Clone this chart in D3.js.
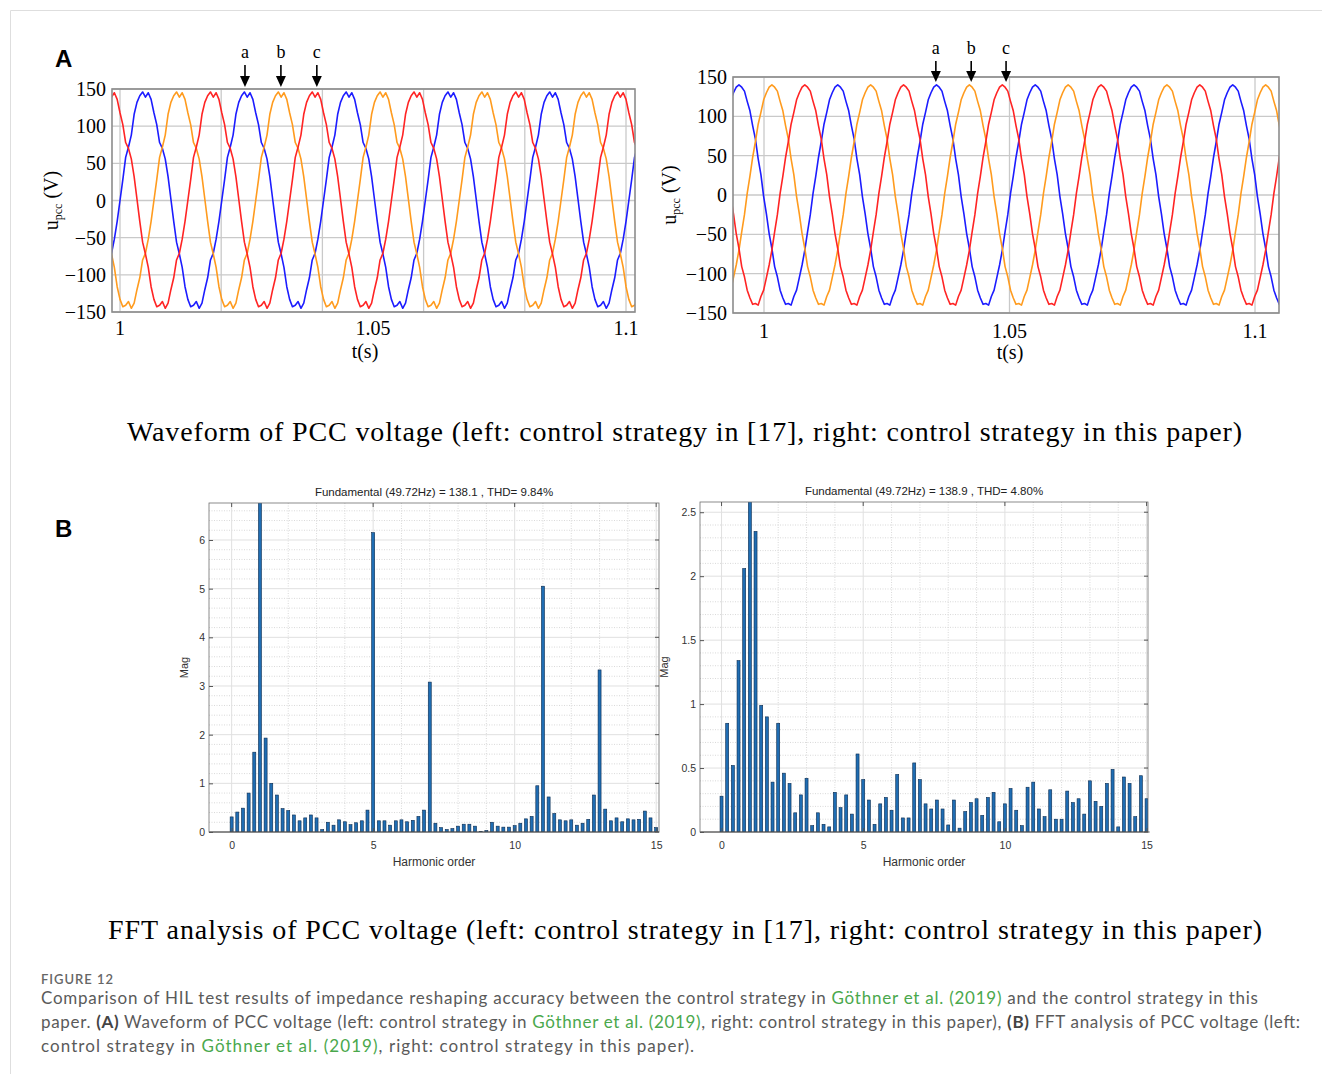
<!DOCTYPE html>
<html>
<head>
<meta charset="utf-8">
<script src="https://cdn.jsdelivr.net/npm/d3@7"></script>
<style>
  body { margin: 0; background: #fff; }
  svg { display: block; }
</style>
</head>
<body>
<div id="fig"></div>
<script>
// ---- data ----
const fundamentalHz = 49.72;
const sampleStepDeg = 10;

// one period of phase a, sampled every 10 deg from its rising zero crossing
const waveLeftPhaseA = [
  0, 28, 58, 72, 88, 116, 132, 141, 146, 139, 145, 136,
  118, 102, 78, 70, 56, 32, 2, -28, -56, -72, -90, -116,
  -133, -143, -141, -136, -145, -138, -120, -104, -80, -71, -52, -28
];
const waveRightPhaseA = [
  2, 24, 48, 68, 90, 105, 121, 130, 137, 140, 137, 132,
  119, 107, 88, 71, 46, 26, -2, -24, -49, -68, -91, -104,
  -121, -131, -139, -138, -140, -129, -121, -105, -89, -70, -47, -25
];
const phaseLagDeg = [0, 120, 240];
const phaseColors = ["#1c1cff", "#ff9b1e", "#ff2424"];
const waveLeftZeroT = 1.0;
const waveRightZeroT = 1.0301;

const markerLabels = ["a", "b", "c"];
const markerLeftT = [1.0247, 1.0318, 1.0389];
const markerRightT = [1.0350, 1.0422, 1.0493];

const waveYTicks = [150, 100, 50, 0, -50, -100, -150];
const waveXTicks = [1, 1.05, 1.1];
const waveLeftGridX = [1, 1.02, 1.04, 1.06, 1.08, 1.1];
const waveRightGridX = [1, 1.05, 1.1];

const harmonicStep = 0.2;
const fftLeftMag = [
  0.31, 0.41, 0.49, 0.80, 1.64, 138.1, 1.93, 1.00, 0.76, 0.48,
  0.44, 0.35, 0.23, 0.29, 0.35, 0.29, 0.05, 0.20, 0.14, 0.25,
  0.21, 0.15, 0.19, 0.23, 0.45, 6.15, 0.23, 0.23, 0.14, 0.23,
  0.25, 0.21, 0.24, 0.32, 0.45, 3.08, 0.18, 0.09, 0.05, 0.07,
  0.12, 0.16, 0.16, 0.12, 0.01, 0.03, 0.20, 0.12, 0.10, 0.10,
  0.13, 0.18, 0.27, 0.32, 0.95, 5.05, 0.72, 0.38, 0.25, 0.23,
  0.25, 0.14, 0.18, 0.26, 0.76, 3.33, 0.47, 0.23, 0.29, 0.21,
  0.27, 0.25, 0.26, 0.43, 0.29, 0.09
];
const fftRightMag = [
  0.28, 0.85, 0.52, 1.34, 2.06, 138.9, 2.35, 0.99, 0.90, 0.39,
  0.85, 0.46, 0.38, 0.15, 0.29, 0.42, 0.05, 0.15, 0.06, 0.04,
  0.31, 0.19, 0.29, 0.14, 0.61, 0.41, 0.25, 0.06, 0.22, 0.27,
  0.17, 0.45, 0.11, 0.11, 0.54, 0.41, 0.22, 0.18, 0.25, 0.18,
  0.055, 0.25, 0.03, 0.16, 0.23, 0.26, 0.13, 0.27, 0.31, 0.08,
  0.22, 0.34, 0.17, 0.05, 0.35, 0.39, 0.18, 0.12, 0.33, 0.10,
  0.10, 0.32, 0.23, 0.26, 0.14, 0.40, 0.24, 0.20, 0.38, 0.49,
  0.04, 0.43, 0.38, 0.12, 0.44, 0.26
];
const fftXTicks = [0, 5, 10, 15];
const fftLeftYTicks = [0, 1, 2, 3, 4, 5, 6];
const fftRightYTicks = [0, 0.5, 1, 1.5, 2, 2.5];
const fftLeftTitle = "Fundamental (49.72Hz) = 138.1 , THD= 9.84%";
const fftRightTitle = "Fundamental (49.72Hz) = 138.9 , THD= 4.80%";

// ---- page ----
const W = 1322, H = 1074;
const SERIF = "'Liberation Serif', 'Times New Roman', serif";
const SANS = "'Liberation Sans', Arial, sans-serif";
const CAP = "Lato, 'Open Sans', sans-serif";

const svg = d3.select("#fig").append("svg")
  .attr("width", W).attr("height", H)
  .attr("viewBox", [0, 0, W, H]);
const defs = svg.append("defs");

svg.append("path")
  .attr("d", `M10.5,${H} V10.5 H${W}`)
  .attr("fill", "none").attr("stroke", "#dedede");

const minus = (d) => (d < 0 ? "\u2212" + Math.abs(d) : String(d));

function drawWave({ id, frame, xRange, yRange, samples, zeroT, gridX, markerT, letterY, shaftTop, tipY, xLabelY, tLabelX, tLabelY, yTitleX }) {
  const x = d3.scaleLinear().domain([1, 1.1]).range(xRange);
  const y = d3.scaleLinear().domain([-150, 150]).range(yRange);
  const g = svg.append("g").attr("class", "wave");

  defs.append("clipPath").attr("id", id)
    .append("rect")
    .attr("x", frame.left).attr("y", frame.top)
    .attr("width", frame.right - frame.left).attr("height", frame.bottom - frame.top);

  g.selectAll(".grid-x").data(gridX).join("line")
    .attr("x1", (d) => x(d)).attr("x2", (d) => x(d))
    .attr("y1", frame.top).attr("y2", frame.bottom)
    .attr("stroke", "#c9c9c9").attr("stroke-width", 1.3);
  g.selectAll(".grid-y").data(waveYTicks).join("line")
    .attr("x1", frame.left).attr("x2", frame.right)
    .attr("y1", (d) => y(d)).attr("y2", (d) => y(d))
    .attr("stroke", "#c9c9c9").attr("stroke-width", 1.3);

  // tile the one-period sample list over the visible window, one trace per phase
  const period = 1 / fundamentalHz;
  const tMin = x.invert(frame.left) - period;
  const tMax = x.invert(frame.right) + period;
  const kMin = Math.floor((tMin - zeroT) / period) - 1;
  const kMax = Math.ceil((tMax - zeroT) / period) + 1;
  const line = d3.line().x((d) => x(d[0])).y((d) => y(d[1]));

  phaseLagDeg.forEach((lag, p) => {
    const pts = [];
    for (let k = kMin; k <= kMax; k++) {
      samples.forEach((v, i) => {
        const t = zeroT + (k + (i * sampleStepDeg + lag) / 360) * period;
        if (t >= tMin && t <= tMax) pts.push([t, v]);
      });
    }
    g.append("path").datum(pts)
      .attr("clip-path", `url(#${id})`)
      .attr("d", line)
      .attr("fill", "none")
      .attr("stroke", phaseColors[p])
      .attr("stroke-width", 1.6)
      .attr("stroke-linejoin", "round");
  });

  g.append("rect")
    .attr("x", frame.left).attr("y", frame.top)
    .attr("width", frame.right - frame.left).attr("height", frame.bottom - frame.top)
    .attr("fill", "none").attr("stroke", "#8c8c8c").attr("stroke-width", 1.6);

  g.selectAll(".ylab").data(waveYTicks).join("text")
    .attr("x", frame.left - 6).attr("y", (d) => y(d)).attr("dy", "0.35em")
    .attr("text-anchor", "end")
    .style("font", `20px ${SERIF}`)
    .text(minus);

  g.selectAll(".xlab").data(waveXTicks).join("text")
    .attr("x", (d) => x(d)).attr("y", xLabelY)
    .attr("text-anchor", "middle")
    .style("font", `20px ${SERIF}`)
    .text((d) => d);

  g.append("text")
    .attr("x", tLabelX).attr("y", tLabelY)
    .attr("text-anchor", "middle")
    .style("font", `20px ${SERIF}`)
    .text("t(s)");

  const yl = g.append("text")
    .attr("transform", `translate(${yTitleX},${(frame.top + frame.bottom) / 2}) rotate(-90)`)
    .attr("text-anchor", "middle")
    .style("font", `20px ${SERIF}`);
  yl.append("tspan").text("u");
  yl.append("tspan").attr("dy", 4).style("font-size", "12px").text("pcc");
  yl.append("tspan").attr("dy", -4).text(" (V)");

  const mk = g.selectAll(".marker").data(markerT).join("g")
    .attr("transform", (d) => `translate(${x(d)},0)`);
  mk.append("text")
    .attr("y", letterY).attr("text-anchor", "middle")
    .style("font", `18px ${SERIF}`)
    .text((d, i) => markerLabels[i]);
  mk.append("line")
    .attr("y1", shaftTop).attr("y2", tipY - 8)
    .attr("stroke", "#000").attr("stroke-width", 1.6);
  mk.append("path")
    .attr("d", `M-5,${tipY - 11} L5,${tipY - 11} L0,${tipY} Z`)
    .attr("fill", "#000");
}

drawWave({
  id: "clip-wave-left",
  frame: { left: 112, right: 635, top: 89, bottom: 312 },
  xRange: [120, 626], yRange: [312, 89],
  samples: waveLeftPhaseA, zeroT: waveLeftZeroT, gridX: waveLeftGridX,
  markerT: markerLeftT, letterY: 58, shaftTop: 65, tipY: 87,
  xLabelY: 335, tLabelX: 365, tLabelY: 358, yTitleX: 58
});
drawWave({
  id: "clip-wave-right",
  frame: { left: 733, right: 1279, top: 77, bottom: 313 },
  xRange: [764, 1255], yRange: [313, 77],
  samples: waveRightPhaseA, zeroT: waveRightZeroT, gridX: waveRightGridX,
  markerT: markerRightT, letterY: 54, shaftTop: 61, tipY: 82,
  xLabelY: 338, tLabelX: 1010, tLabelY: 359, yTitleX: 676
});

function drawFFT({ id, frame, xDomain, yMax, yTicks, minorY, values, title, yFmt, magOffset }) {
  const x = d3.scaleLinear().domain(xDomain).range([frame.left, frame.right]);
  const y = d3.scaleLinear().domain([0, yMax]).range([frame.bottom, frame.top]);
  const g = svg.append("g").attr("class", "fft");
  const fw = frame.right - frame.left, fh = frame.bottom - frame.top;

  defs.append("clipPath").attr("id", id)
    .append("rect").attr("x", frame.left).attr("y", frame.top).attr("width", fw).attr("height", fh);

  const minorYs = d3.range(0, yMax, minorY).filter((v) => !yTicks.some((t) => Math.abs(t - v) < 1e-6));
  const minorXs = d3.range(Math.ceil(xDomain[0]), xDomain[1], 1).filter((v) => !fftXTicks.includes(v));

  g.selectAll(".minor-y").data(minorYs).join("line")
    .attr("x1", frame.left).attr("x2", frame.right)
    .attr("y1", (d) => y(d)).attr("y2", (d) => y(d))
    .attr("stroke", "#cfcfcf").attr("stroke-width", 0.8).attr("stroke-dasharray", "1,1.5");
  g.selectAll(".minor-x").data(minorXs).join("line")
    .attr("x1", (d) => x(d)).attr("x2", (d) => x(d))
    .attr("y1", frame.top).attr("y2", frame.bottom)
    .attr("stroke", "#cfcfcf").attr("stroke-width", 0.8).attr("stroke-dasharray", "1,1.5");
  g.selectAll(".major-y").data(yTicks).join("line")
    .attr("x1", frame.left).attr("x2", frame.right)
    .attr("y1", (d) => y(d)).attr("y2", (d) => y(d))
    .attr("stroke", "#e0e0e0").attr("stroke-width", 1);
  g.selectAll(".major-x").data(fftXTicks).join("line")
    .attr("x1", (d) => x(d)).attr("x2", (d) => x(d))
    .attr("y1", frame.top).attr("y2", frame.bottom)
    .attr("stroke", "#e0e0e0").attr("stroke-width", 1);

  const bw = 3;
  g.append("g").attr("clip-path", `url(#${id})`)
    .selectAll("rect").data(values).join("rect")
    .attr("x", (d, i) => x(i * harmonicStep) - bw / 2)
    .attr("y", (d) => y(d))
    .attr("width", bw)
    .attr("height", (d) => y(0) - y(d))
    .attr("fill", "#1f6db3")
    .attr("stroke", "#0b2b4f")
    .attr("stroke-width", 0.6);

  // baseline under the bars
  g.append("line")
    .attr("x1", frame.left).attr("x2", x(values.length * harmonicStep - harmonicStep) + 3)
    .attr("y1", y(0)).attr("y2", y(0))
    .attr("stroke", "#222").attr("stroke-width", 0.8);

  g.append("rect")
    .attr("x", frame.left).attr("y", frame.top).attr("width", fw).attr("height", fh)
    .attr("fill", "none").attr("stroke", "#6f6f6f").attr("stroke-width", 0.8);

  g.append("g")
    .attr("transform", `translate(0,${frame.bottom})`)
    .call(d3.axisBottom(x).tickValues(fftXTicks).tickSizeInner(-4).tickSizeOuter(0).tickPadding(10))
    .call((a) => a.select(".domain").remove())
    .call((a) => a.selectAll("line").attr("stroke", "#555"))
    .call((a) => a.selectAll("text").style("font", `10.5px ${SANS}`).attr("fill", "#333"));
  g.append("g")
    .attr("transform", `translate(${frame.left},0)`)
    .call(d3.axisLeft(y).tickValues(yTicks).tickFormat(yFmt).tickSizeInner(-4).tickSizeOuter(0).tickPadding(4))
    .call((a) => a.select(".domain").remove())
    .call((a) => a.selectAll("line").attr("stroke", "#555"))
    .call((a) => a.selectAll("text").style("font", `10.5px ${SANS}`).attr("fill", "#333"));
  // mirrored ticks on the top and right edges
  g.selectAll(".tick-top").data(fftXTicks).join("line")
    .attr("x1", (d) => x(d)).attr("x2", (d) => x(d))
    .attr("y1", frame.top).attr("y2", frame.top + 4).attr("stroke", "#555");
  g.selectAll(".tick-right").data(yTicks).join("line")
    .attr("x1", frame.right - 4).attr("x2", frame.right)
    .attr("y1", (d) => y(d)).attr("y2", (d) => y(d)).attr("stroke", "#555");

  g.append("text")
    .attr("x", (frame.left + frame.right) / 2).attr("y", frame.top - 7)
    .attr("text-anchor", "middle")
    .style("font", `11.5px ${SANS}`).attr("fill", "#222")
    .text(title);
  g.append("text")
    .attr("x", (frame.left + frame.right) / 2).attr("y", frame.bottom + 34)
    .attr("text-anchor", "middle")
    .style("font", `12px ${SANS}`).attr("fill", "#333")
    .text("Harmonic order");
  g.append("text")
    .attr("transform", `translate(${frame.left - magOffset},${(frame.top + frame.bottom) / 2}) rotate(-90)`)
    .attr("text-anchor", "middle")
    .style("font", `11px ${SANS}`).attr("fill", "#333")
    .text("Mag");
}

drawFFT({
  id: "clip-fft-left",
  frame: { left: 209, right: 659, top: 503, bottom: 832 },
  xDomain: [-0.8, 15.1], yMax: 6.76, yTicks: fftLeftYTicks, minorY: 0.2,
  values: fftLeftMag, title: fftLeftTitle, yFmt: (d) => d, magOffset: 21
});
drawFFT({
  id: "clip-fft-right",
  frame: { left: 700, right: 1148, top: 502, bottom: 832 },
  xDomain: [-0.76, 15.05], yMax: 2.58, yTicks: fftRightYTicks, minorY: 0.1,
  values: fftRightMag, title: fftRightTitle, yFmt: (d) => d, magOffset: 32
});

// panel letters and sub-captions
svg.append("text").attr("x", 55).attr("y", 67)
  .style("font", `bold 24px ${SANS}`).text("A");
svg.append("text").attr("x", 55).attr("y", 537)
  .style("font", `bold 24px ${SANS}`).text("B");

svg.append("text")
  .attr("x", 127).attr("y", 441)
  .attr("textLength", 1115).attr("lengthAdjust", "spacing")
  .style("font", `28px ${SERIF}`)
  .text("Waveform of PCC voltage (left: control strategy in [17], right: control strategy in this paper)");
svg.append("text")
  .attr("x", 108).attr("y", 939)
  .attr("textLength", 1154).attr("lengthAdjust", "spacing")
  .style("font", `28px ${SERIF}`)
  .text("FFT analysis of PCC voltage (left: control strategy in [17], right: control strategy in this paper)");

// figure caption
const GREEN = "#4aa84c", GREY = "#5a5a5a";
svg.append("text").attr("x", 41).attr("y", 984)
  .attr("textLength", 72).attr("lengthAdjust", "spacing")
  .style("font", `600 13px ${CAP}`).attr("fill", "#666")
  .text("FIGURE 12");

const captionLines = [
  { y: 1004, len: 1217, parts: [
    ["Comparison of HIL test results of impedance reshaping accuracy between the control strategy in ", GREY],
    ["Göthner et al. (2019)", GREEN],
    [" and the control strategy in this", GREY]] },
  { y: 1028, len: 1259, parts: [
    ["paper. ", GREY], ["(A)", "#444", 700],
    [" Waveform of PCC voltage (left: control strategy in ", GREY],
    ["Göthner et al. (2019)", GREEN],
    [", right: control strategy in this paper), ", GREY], ["(B)", "#444", 700],
    [" FFT analysis of PCC voltage (left:", GREY]] },
  { y: 1052, len: 653, parts: [
    ["control strategy in ", GREY], ["Göthner et al. (2019)", GREEN],
    [", right: control strategy in this paper).", GREY]] }
];
captionLines.forEach((ln) => {
  const t = svg.append("text").attr("x", 41).attr("y", ln.y)
    .attr("textLength", ln.len).attr("lengthAdjust", "spacing")
    .style("font", `17px ${CAP}`);
  ln.parts.forEach(([s, c, w]) => {
    t.append("tspan").attr("fill", c).style("font-weight", w || 400).text(s);
  });
});
</script>
</body>
</html>
